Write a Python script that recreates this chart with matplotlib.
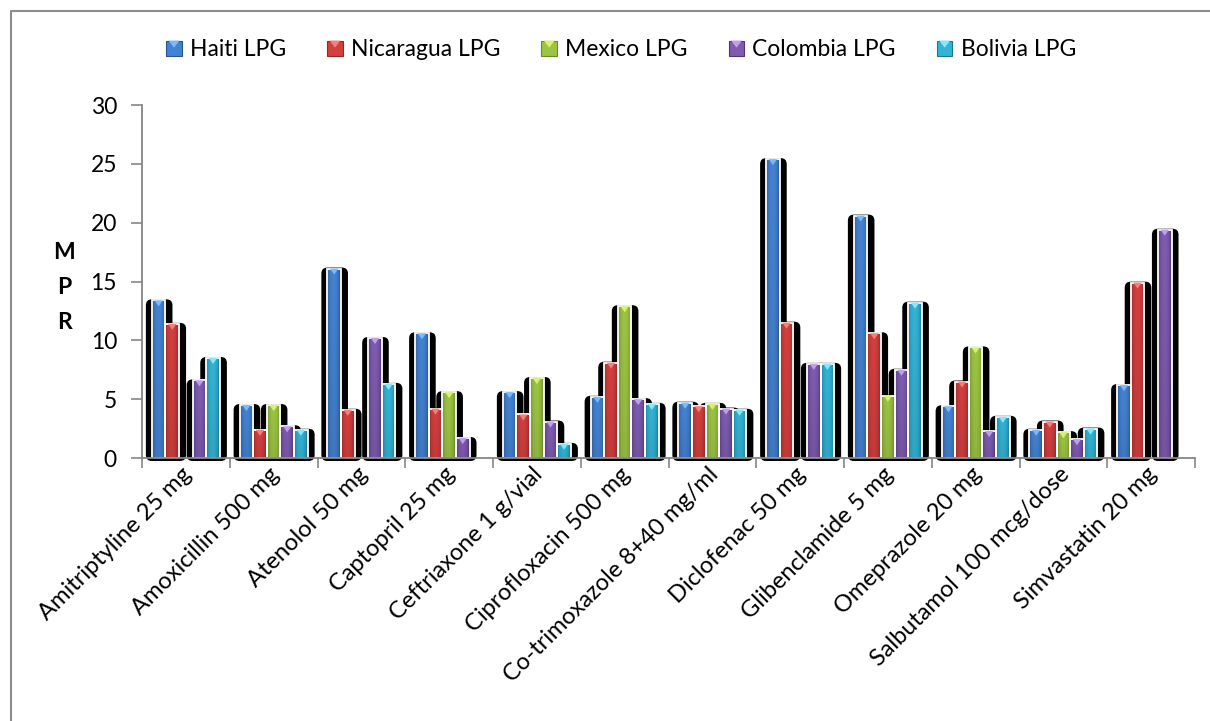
import numpy as np
import matplotlib
matplotlib.use("Agg")
import matplotlib.pyplot as plt
from matplotlib.patches import FancyBboxPatch, Polygon, Rectangle, Patch
from matplotlib.legend_handler import HandlerBase
from matplotlib.lines import Line2D
from matplotlib.colors import to_rgb
from matplotlib.transforms import ScaledTranslation

plt.rcParams['font.family'] = ['Lato', 'DejaVu Sans']

# ---- data -----------------------------------------------------------------
medicines = [
    "Amitriptyline 25 mg", "Amoxicillin 500 mg", "Atenolol 50 mg",
    "Captopril 25 mg", "Ceftriaxone 1 g/vial", "Ciprofloxacin 500 mg",
    "Co-trimoxazole 8+40 mg/ml", "Diclofenac 50 mg", "Glibenclamide 5 mg",
    "Omeprazole 20 mg", "Salbutamol 100 mcg/dose", "Simvastatin 20 mg",
]
series_names = ["Haiti LPG", "Nicaragua LPG", "Mexico LPG", "Colombia LPG", "Bolivia LPG"]

haiti = [13.4, 4.5, 16.1, 10.6, 5.6, 5.2, 4.7, 25.4, 20.6, 4.4, 2.4, 6.2]
nicaragua = [11.4, 2.4, 4.1, 4.2, 3.7, 8.1, 4.4, 11.5, 10.6, 6.5, 3.1, 14.9]
mexico = [None, 4.5, None, 5.6, 6.8, 12.9, 4.6, None, 5.3, 9.4, 2.2, None]
colombia = [6.6, 2.7, 10.2, 1.7, 3.1, 5.0, 4.2, 8.0, 7.5, 2.3, 1.6, 19.4]
bolivia = [8.5, 2.4, 6.3, None, 1.2, 4.6, 4.1, 8.0, 13.2, 3.5, 2.5, None]

y_ticks = [0, 5, 10, 15, 20, 25, 30]

# (edge shade, centre shade, top marker shade) per series
palette = [
    ("#275493", "#4483d2", "#7cbaf6"),
    ("#952526", "#d2403f", "#f47f7c"),
    ("#688a27", "#9dc444", "#d8f26c"),
    ("#4f3479", "#7f5cb0", "#bfa0ea"),
    ("#1b7692", "#33b4d6", "#86e8fb"),
]

all_series = [haiti, nicaragua, mexico, colombia, bolivia]

FS = 16.5

# ---- figure ---------------------------------------------------------------
W, H = 1210, 721
fig = plt.figure(figsize=(W / 100, H / 100), dpi=100)
ax = fig.add_axes([142 / W, 1 - 458 / H, 1053 / W, 353 / H])

n_groups = len(medicines)
x = np.arange(n_groups)
bw = 0.155
grey = "#868686"

# pixel -> data conversions for decorative geometry
px_x = 1.0 / (1053 / n_groups)
px_y = 30.0 / 353
aspect = px_y / px_x


def gradient_image(edge, centre, n=64):
    t = np.linspace(0, 1, n)
    prof = np.sin(np.pi * np.clip(t * 1.05, 0, 1)) ** 0.55
    e = np.array(to_rgb(edge))
    c = np.array(to_rgb(centre))
    img = e[None, :] + (c - e)[None, :] * prof[:, None]
    rows = np.linspace(1.0, 0.92, 24)
    return np.clip(img[None, :, :] * rows[:, None, None], 0, 1)


for j, vals in enumerate(all_series):
    v = np.array([np.nan if a is None else a for a in vals], dtype=float)
    pos = x + (j - 2) * bw
    edge, centre, light = palette[j]
    bars = ax.bar(pos, v, bw, color=centre, edgecolor="none", zorder=3)
    ax.bar(pos, v, bw, fill=False, edgecolor="white", linewidth=1.3, zorder=5)
    img = gradient_image(edge, centre)
    for rect, val in zip(bars, v):
        if not np.isfinite(val) or val <= 0:
            continue
        x0 = rect.get_x()
        # dark drop shadow with rounded top, behind every bar
        sh = FancyBboxPatch(
            (x0 - 6 * px_x, -3 * px_y), bw + 13 * px_x, val + 4 * px_y,
            boxstyle=f"round,pad=0,rounding_size={6 * px_x}",
            mutation_aspect=aspect, fc="black", ec="none", zorder=1,
            clip_on=False,
        )
        ax.add_patch(sh)
        im = ax.imshow(img, extent=[x0, x0 + bw, 0, val], aspect="auto",
                       interpolation="bilinear", zorder=4)
        im.set_clip_path(rect)
        tw = bw * 0.62
        th = min(6 * px_y, val * 0.4)
        cx = x0 + bw / 2
        tri = Polygon([(cx - tw / 2, val), (cx + tw / 2, val), (cx, val - th)],
                      closed=True, fc=light, ec="none", zorder=6)
        ax.add_patch(tri)

ax.set_xlim(-0.5, n_groups - 0.5)
ax.set_ylim(0, 30)

# ---- axes styling ---------------------------------------------------------
for s in ("top", "right"):
    ax.spines[s].set_visible(False)
for s in ("left", "bottom"):
    ax.spines[s].set_color(grey)
    ax.spines[s].set_linewidth(1.3)
    ax.spines[s].set_zorder(7)

ax.set_yticks(y_ticks)
ax.tick_params(axis="y", length=8, width=1.2, color=grey, pad=10,
               labelsize=FS, labelcolor="black")
ax.set_xticks(x)
ax.set_xticklabels(medicines, rotation=45, ha="right", rotation_mode="anchor",
                   fontsize=17)
ax.tick_params(axis="x", which="major", length=0, pad=4)
shift = ScaledTranslation(-5 / 100, 0, fig.dpi_scale_trans)
for lab in ax.get_xticklabels():
    lab.set_transform(lab.get_transform() + shift)
ax.set_xticks(np.arange(-0.5, n_groups, 1), minor=True)
ax.tick_params(axis="x", which="minor", length=7, width=1.2, color=grey)

ax.set_ylabel("M\nP\nR", rotation=0, fontsize=FS, fontweight="bold",
              linespacing=1.82, ha="center", va="center")
ax.yaxis.set_label_coords(-0.074, 0.484)


# ---- legend ---------------------------------------------------------------
class BevelSquare(HandlerBase):
    def __init__(self, edge, centre, light):
        super().__init__()
        self.edge, self.centre, self.light = edge, centre, light

    def create_artists(self, legend, orig_handle, xdescent, ydescent,
                       width, height, fontsize, trans):
        x0, y0 = -xdescent, -ydescent
        sq = Rectangle((x0, y0), width, height, fc=self.centre,
                       ec=self.edge, lw=0.8, transform=trans)
        tri = Polygon([(x0 + 0.15 * width, y0 + height),
                       (x0 + 0.85 * width, y0 + height),
                       (x0 + 0.5 * width, y0 + 0.55 * height)],
                      closed=True, fc=self.light, ec="none", transform=trans)
        return [sq, tri]


handles = [Patch(label=n) for n in series_names]
hmap = {h: BevelSquare(*palette[i]) for i, h in enumerate(handles)}
fig.legend(handles=handles, handler_map=hmap, loc="center",
           bbox_to_anchor=(621 / W, 1 - 50 / H), ncol=5, frameon=False,
           fontsize=FS, handlelength=0.68, handleheight=0.68,
           handletextpad=0.35, columnspacing=1.8, borderpad=0)

# ---- outer frame ----------------------------------------------------------
fig.add_artist(Line2D([11 / W, 11 / W, 1.0], [0.0, 1 - 11 / H, 1 - 11 / H],
                      transform=fig.transFigure, color="#8c8c8c", lw=1.5))

fig.savefig("out.png", dpi=100)
